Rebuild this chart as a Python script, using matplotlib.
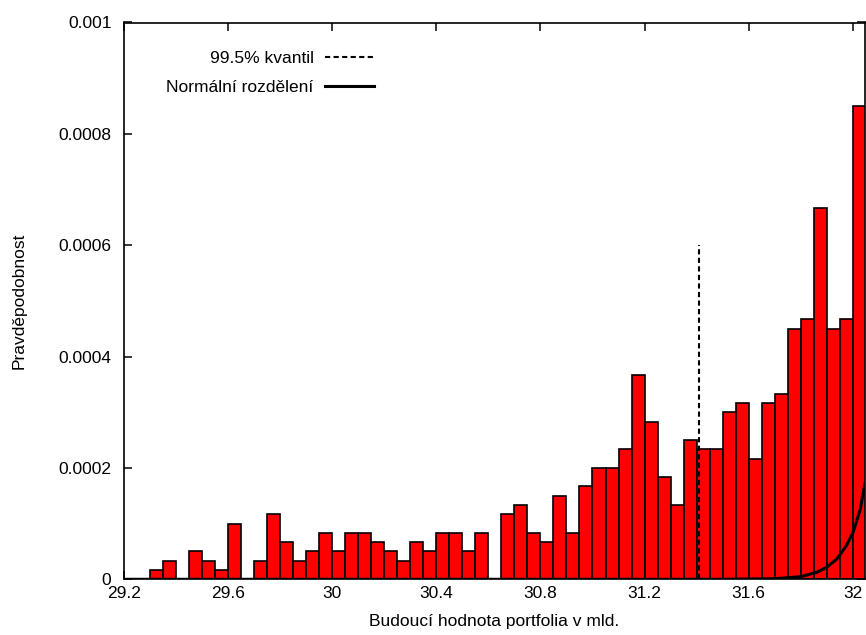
import matplotlib
matplotlib.use("Agg")
import matplotlib.pyplot as plt
from matplotlib.ticker import FuncFormatter
import numpy as np

plt.rcParams['font.family'] = ['Liberation Sans', 'DejaVu Sans']

# Histogram: left bin edges (width 0.05) and heights (probability)
bin_start = 29.2
bin_width = 0.05
q = 1.0 / 60000.0
bin_counts = [0, 0, 1, 2, 0, 3, 2, 1, 6, 0,
              2, 7, 4, 2, 3, 5, 3, 5, 5, 4,
              3, 2, 4, 3, 5, 5, 3, 5, 0, 7,
              8, 5, 4, 9, 5, 10, 12, 12, 14, 22,
              17, 11, 8, 15, 14, 14, 18, 19, 13, 19,
              20, 27, 28, 40, 27, 28, 51]
bin_left = [bin_start + bin_width * i for i in range(len(bin_counts))]
bin_heights = [c * q for c in bin_counts]

# 99.5% quantile
quantile_x = 31.41
quantile_top = 0.0006

# Normal distribution curve
normal_x = [29.2, 31.5, 31.70, 31.80, 31.862, 31.900, 31.939, 31.977, 32.002, 32.028, 32.047]
normal_y = [0.0, 0.0, 0.0000010, 0.0000047, 0.0000126, 0.0000216, 0.0000365, 0.0000616, 0.0000855, 0.0001245, 0.000172]

x_ticks = [29.2, 29.6, 30.0, 30.4, 30.8, 31.2, 31.6, 32.0]
y_ticks = [0, 0.0002, 0.0004, 0.0006, 0.0008, 0.001]

FS = 12.5

fig = plt.figure(figsize=(8.66, 6.35), dpi=100)
ax = fig.add_axes([124 / 866, (635 - 579.3) / 635, 741 / 866, 556.8 / 635])

ax.bar(bin_left, bin_heights, width=bin_width, align='edge',
       color='#ff0000', edgecolor='black', linewidth=1.2, zorder=2)

q_line, = ax.plot([quantile_x, quantile_x], [0, quantile_top], color='black',
                  linestyle=(0, (2.5, 1.6)), linewidth=1.5, zorder=3,
                  label='99.5% kvantil')
n_line, = ax.plot(normal_x, normal_y, color='black', linewidth=2.2, zorder=4,
                  label='Normální rozdělení')

ax.set_xlim(29.2, 32.047)
ax.set_ylim(0, 0.001)
ax.set_xticks(x_ticks)
ax.set_yticks(y_ticks)
fmt = FuncFormatter(lambda v, p: '%g' % round(v, 6))
ax.xaxis.set_major_formatter(fmt)
ax.yaxis.set_major_formatter(fmt)
ax.tick_params(direction='in', length=6, width=1.1, top=True, right=True,
               labelsize=FS, colors='black')
ax.tick_params(axis='y', pad=9)
ax.tick_params(axis='x', pad=5)
for s in ax.spines.values():
    s.set_linewidth(1.2)

ax.set_xlabel('Budoucí hodnota portfolia v mld.', fontsize=FS, labelpad=9)
ax.set_ylabel('Pravděpodobnost', fontsize=FS, labelpad=23)

leg = ax.legend(handles=[q_line, n_line], loc='upper right',
                bbox_to_anchor=((390 - 124) / 741, (579.3 - 35.5) / 556.8),
                frameon=False, markerfirst=False, handlelength=2.85,
                handletextpad=0.65, labelspacing=0.8, fontsize=FS)

fig.savefig('out.png', dpi=100)
